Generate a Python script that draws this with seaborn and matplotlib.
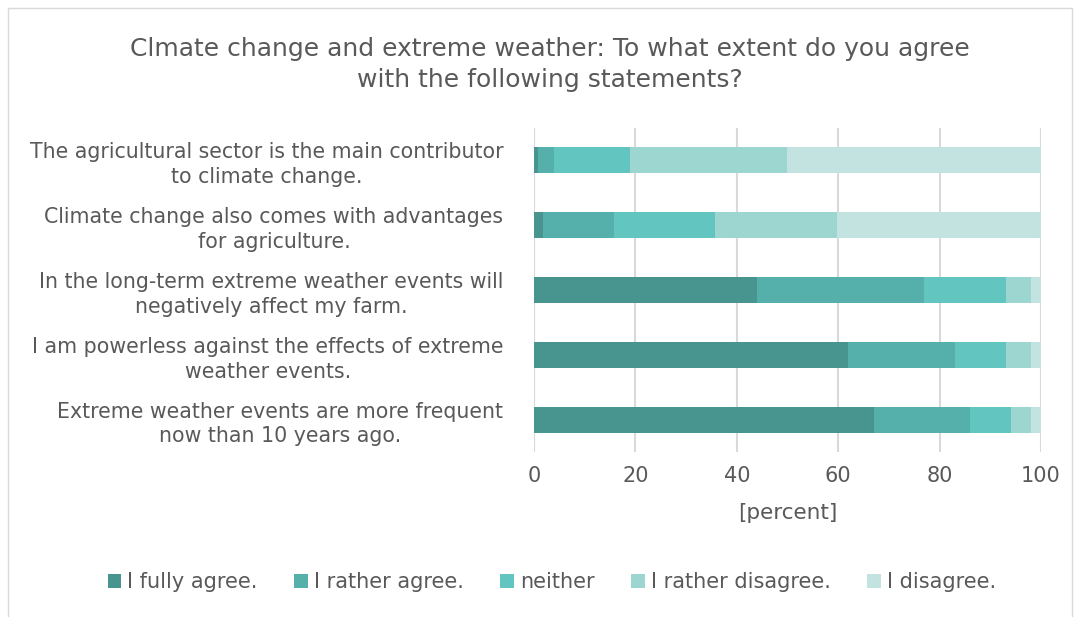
import numpy as np
import pandas as pd
import matplotlib.pyplot as plt
import seaborn as sns
from matplotlib.patches import Rectangle

# statements (top to bottom) and answer shares in percent
statements = [
    "The agricultural sector is the main contributor\nto climate change.",
    "Climate change also comes with advantages\nfor agriculture.",
    "In the long-term extreme weather events will\nnegatively affect my farm.",
    "I am powerless against the effects of extreme\nweather events.",
    "Extreme weather events are more frequent\nnow than 10 years ago.",
]
answers = ["I fully agree.", "I rather agree.", "neither", "I rather disagree.", "I disagree."]
fully_agree = [0.7, 1.7, 44, 62, 67]
rather_agree = [3.2, 14, 33, 21, 19]
neither = [15, 20, 16, 10, 8]
rather_disagree = [31, 24, 5, 5, 4]
disagree = [50.1, 40.3, 2, 2, 2]
colors = ["#48958f", "#55afab", "#63c5bf", "#9dd6d1", "#c2e3e0"]

df = pd.DataFrame({
    "statement": statements,
    answers[0]: fully_agree,
    answers[1]: rather_agree,
    answers[2]: neither,
    answers[3]: rather_disagree,
    answers[4]: disagree,
})

sns.set_theme(style="white")
plt.rcParams['font.family'] = ['DejaVu Sans']
text_color = "#595959"

fig = plt.figure(figsize=(10.8, 6.17), dpi=100)
ax = fig.add_axes([534 / 1080, 1 - 452 / 617, 507 / 1080, 324 / 617])

# stacked bars: draw cumulative totals, first segment on top
left = np.zeros(len(df))
for i, (ans, col) in enumerate(zip(answers, colors)):
    sns.barplot(data=df, y="statement", x=df[ans] + left, color=col, orient="h",
                width=0.4, ax=ax, label=ans, zorder=10 - i, linewidth=0,
                saturation=1)
    left = left + df[ans].values

handles, labels = ax.get_legend_handles_labels()
if ax.get_legend() is not None:
    ax.get_legend().remove()

ax.set_xlim(0, 100)
ax.set_xticks([0, 20, 40, 60, 80, 100])
ax.xaxis.grid(True, color="#d9d9d9", linewidth=1.5)
ax.set_axisbelow(True)
for s in ax.spines.values():
    s.set_visible(False)
ax.tick_params(axis="x", labelsize=15, colors=text_color, length=0, pad=10)
ax.tick_params(axis="y", labelsize=14.8, colors=text_color, length=0, pad=22)
for lab in ax.get_yticklabels():
    lab.set_multialignment("center")
    lab.set_linespacing(1.3)
    lab.set_y(lab.get_position()[1])
ax.set_ylabel("")
ax.set_xlabel("[percent]", fontsize=15.5, color=text_color, labelpad=12)

fig.legend(handles, labels, loc="center", bbox_to_anchor=(552 / 1080, 1 - 582 / 617),
           ncol=5, frameon=False, fontsize=15, labelcolor=text_color,
           handlelength=0.65, handleheight=0.65, handletextpad=0.3, columnspacing=1.75)

fig.suptitle("Clmate change and extreme weather: To what extent do you agree\nwith the following statements?",
             x=550 / 1080, y=1 - 37 / 617, fontsize=18, color=text_color, va="top",
             linespacing=1.35)

fig.patches.append(Rectangle((8 / 1080, -0.05), 1064 / 1080, 1 - 8 / 617 + 0.05,
                             transform=fig.transFigure, fill=False,
                             edgecolor="#d9d9d9", linewidth=1))

fig.savefig("out.png", dpi=100)
